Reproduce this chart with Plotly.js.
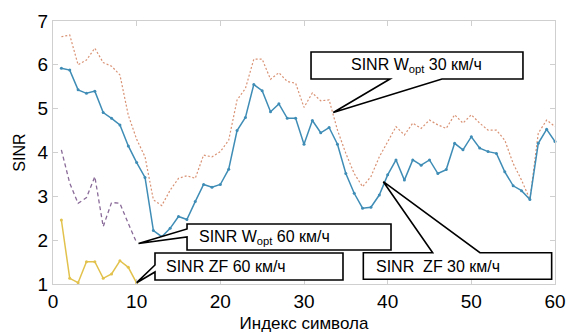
<!DOCTYPE html>
<html>
<head>
<meta charset="utf-8">
<script src="https://cdn.plot.ly/plotly-3.0.1.min.js"></script>
<style>html,body{margin:0;padding:0;background:#fff;}#chart{width:566px;height:334px;}</style>
</head>
<body>
<div id="chart"></div>
<script>
// Symbol index (x axis)
const symbols60 = [1,2,3,4,5,6,7,8,9,10,11,12,13,14,15,16,17,18,19,20,21,22,23,24,25,26,27,28,29,30,
                   31,32,33,34,35,36,37,38,39,40,41,42,43,44,45,46,47,48,49,50,51,52,53,54,55,56,57,58,59,60];
const symbols10 = [1,2,3,4,5,6,7,8,9,10];

// SINR W_opt 30 km/h
const woptThirty = [6.64,6.68,6.00,6.11,6.38,6.05,5.97,5.77,4.85,4.30,3.90,2.92,2.79,3.14,3.41,3.47,3.41,3.94,3.90,4.02,
                    4.28,5.20,5.46,6.13,6.13,5.67,5.82,5.62,5.58,5.03,5.36,5.18,5.20,4.51,3.98,3.52,3.22,3.45,3.90,4.25,
                    4.59,4.40,4.67,4.55,4.74,4.63,4.55,4.86,4.67,4.86,4.67,4.51,4.51,4.28,3.75,3.37,2.93,4.44,4.74,4.59];
// SINR ZF 30 km/h
const zfThirty = [5.92,5.88,5.43,5.35,5.40,4.91,4.78,4.63,4.15,3.77,3.43,2.22,2.08,2.27,2.54,2.47,2.88,3.27,3.21,3.27,
                  3.62,4.50,4.80,5.55,5.41,4.93,5.11,4.78,4.78,4.19,4.73,4.45,4.57,4.19,3.52,3.07,2.73,2.75,3.03,3.49,
                  3.83,3.37,3.83,3.71,3.83,3.52,3.61,4.21,4.06,4.36,4.10,4.02,3.98,3.56,3.24,3.13,2.93,4.21,4.53,4.25];
// SINR W_opt 60 km/h
const woptSixty = [4.06,3.30,2.84,2.97,3.45,2.31,2.86,2.84,2.38,1.94];
// SINR ZF 60 km/h
const zfSixty = [2.46,1.13,1.03,1.51,1.51,1.13,1.23,1.53,1.38,1.02];

const xTicks = [0,10,20,30,40,50,60];
const yTicks = [1,2,3,4,5,6,7];
const labels = ['SINR W<sub>opt</sub> 30 км/ч','SINR W<sub>opt</sub> 60 км/ч','SINR ZF 60 км/ч','SINR\u00a0 ZF 30 км/ч'];

const traces = [
  {x: symbols60, y: woptThirty, mode:'lines', line:{color:'#d99274', width:1.2, dash:'2px,2px'}, cliponaxis:false},
  {x: symbols60, y: zfThirty, mode:'lines+markers', line:{color:'#3f8db6', width:1.5}, marker:{size:3, color:'#3f8db6'}, cliponaxis:false},
  {x: symbols10, y: woptSixty, mode:'lines', line:{color:'#8a6b99', width:1.3, dash:'4px,3px'}, cliponaxis:false},
  {x: symbols10, y: zfSixty, mode:'lines+markers', line:{color:'#e2c24c', width:1.5}, marker:{size:3, color:'#e2c24c'}, cliponaxis:false}
];

const font = 'Liberation Sans, Arial, sans-serif';
const boxStyle = {type:'path', xref:'x', yref:'y', layer:'above', fillcolor:'#ffffff', line:{color:'#000000', width:1.6}};
const shapes = [
  Object.assign({path:'M30.84,6.293 L56.17,6.293 L56.17,5.677 L46.49,5.677 L33.5,4.913 L40.28,5.677 L30.84,5.677 Z'}, boxStyle),
  Object.assign({path:'M16.02,2.369 L40.40,2.369 L40.40,1.776 L16.02,1.776 L16.02,2.073 L10.22,1.924 L16.02,2.255 Z'}, boxStyle),
  Object.assign({path:'M12.19,1.707 L34.66,1.707 L34.66,1.091 L12.19,1.091 L12.19,1.274 L10.0,1.03 L12.19,1.433 Z'}, boxStyle),
  Object.assign({path:'M37.09,1.714 L45.38,1.714 L39.48,3.334 L51.03,1.714 L59.60,1.714 L59.60,1.107 L37.09,1.107 Z'}, boxStyle)
];
const annFont = {family: font, size: 16, color:'#000'};
const annotations = [
  {x:43.5, y:5.985, xref:'x', yref:'y', text:labels[0], showarrow:false, xanchor:'center', yanchor:'middle', font:annFont},
  {x:17.2, y:2.07, xref:'x', yref:'y', text:labels[1], showarrow:false, xanchor:'left', yanchor:'middle', font:annFont},
  {x:13.3, y:1.40, xref:'x', yref:'y', text:labels[2], showarrow:false, xanchor:'left', yanchor:'middle', font:annFont},
  {x:38.4, y:1.41, xref:'x', yref:'y', text:labels[3], showarrow:false, xanchor:'left', yanchor:'middle', font:annFont}
];

const layout = {
  width:566, height:334,
  margin:{l:53, r:11, t:21, b:50},
  paper_bgcolor:'#ffffff', plot_bgcolor:'#ffffff',
  showlegend:false,
  font:{family:font, color:'#000'},
  xaxis:{range:[0,60], tickvals:xTicks, ticktext:xTicks.map(String), showgrid:false, zeroline:false,
         showline:true, mirror:'ticks', linecolor:'#cfcfcf', linewidth:1, ticks:'inside', ticklen:5, tickcolor:'#cfcfcf',
         tickfont:{family:font, size:19, color:'#000'},
         title:{text:'Индекс символа', font:{family:font, size:17, color:'#000'}, standoff:6}},
  yaxis:{range:[1,7], tickvals:yTicks, ticktext:yTicks.map(String), showgrid:false, zeroline:false,
         showline:true, mirror:'ticks', linecolor:'#cfcfcf', linewidth:1, ticks:'inside', ticklen:5, tickcolor:'#cfcfcf',
         tickfont:{family:font, size:19, color:'#000'},
         title:{text:'SINR', font:{family:font, size:16, color:'#000'}, standoff:8}},
  shapes: shapes,
  annotations: annotations
};

Plotly.newPlot('chart', traces, layout, {displayModeBar:false, staticPlot:true});
</script>
</body>
</html>
